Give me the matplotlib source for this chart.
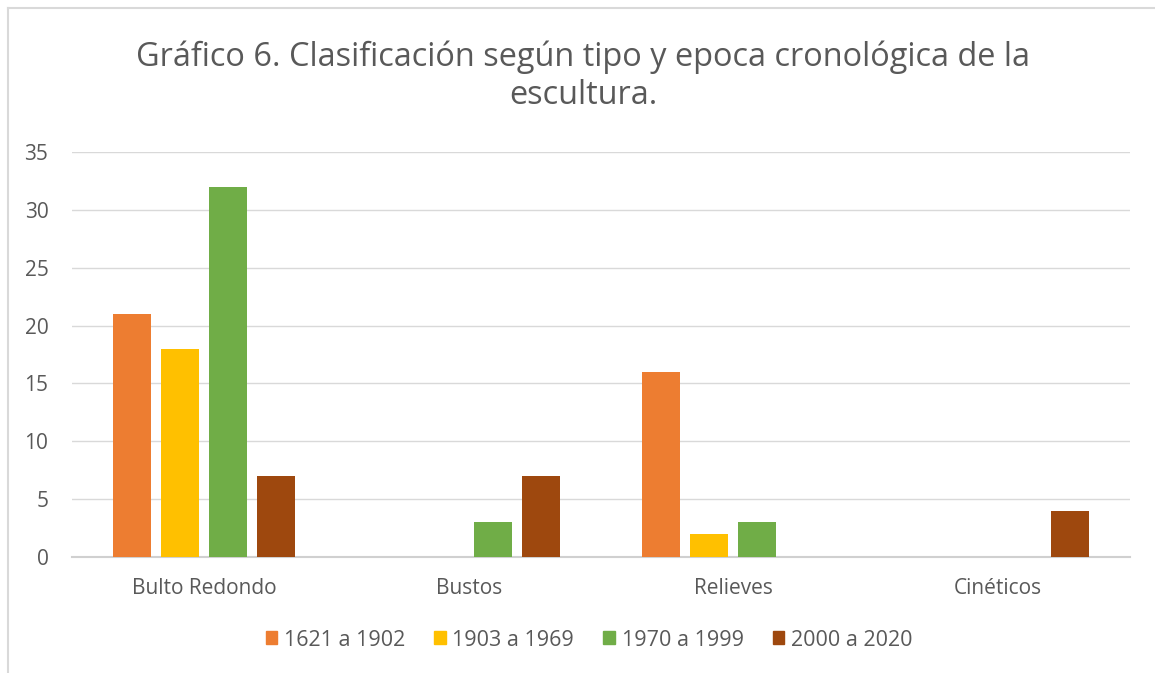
import matplotlib.pyplot as plt
import matplotlib.patches as mpatches
import numpy as np

plt.rcParams['font.family'] = ['Open Sans', 'DejaVu Sans']

# Data
categorias = ["Bulto Redondo", "Bustos", "Relieves", "Cinéticos"]
epocas = ["1621 a 1902", "1903 a 1969", "1970 a 1999", "2000 a 2020"]
v_1621_1902 = [21, 0, 16, 0]
v_1903_1969 = [18, 0, 2, 0]
v_1970_1999 = [32, 3, 3, 0]
v_2000_2020 = [7, 7, 0, 4]
series = [v_1621_1902, v_1903_1969, v_1970_1999, v_2000_2020]
colores = ["#ED7D31", "#FFC000", "#70AD47", "#9E480E"]

texto = "#595959"
grid = "#D9D9D9"

fig = plt.figure(figsize=(11.55, 6.73), dpi=100)

# outer chart frame (only left and top edges fall inside the image)
fig.add_artist(plt.Line2D([8 / 1155, 8 / 1155], [0, 1 - 8 / 673], color="#D9D9D9", lw=1.5,
                          transform=fig.transFigure))
fig.add_artist(plt.Line2D([8 / 1155, 1], [1 - 8 / 673, 1 - 8 / 673], color="#D9D9D9", lw=1.5,
                          transform=fig.transFigure))

ax = fig.add_axes([72 / 1155, 1 - 557 / 673, (1130 - 72) / 1155, (557 - 152) / 673])

x = np.arange(len(categorias))
paso = 0.1815
ancho = 0.1437
for i, (vals, col) in enumerate(zip(series, colores)):
    ax.bar(x + (i - 1.5) * paso, vals, width=ancho, color=col, label=epocas[i], zorder=3)

ax.set_xlim(-0.5, 3.5)
ax.set_ylim(0, 35)
ax.set_yticks(range(0, 36, 5))
ax.set_xticks(x)
ax.set_xticklabels(categorias)
ax.yaxis.grid(True, color=grid, lw=1, zorder=0)
for s in ["top", "right", "left"]:
    ax.spines[s].set_visible(False)
ax.spines["bottom"].set_color("#D0D0D0")
ax.spines["bottom"].set_linewidth(1.5)
ax.tick_params(axis="both", length=0, colors=texto, labelsize=15)
ax.tick_params(axis="x", pad=15)
ax.tick_params(axis="y", pad=17)

fig.text(0.505, 1 - 76 / 673, "Gráfico 6. Clasificación según tipo y epoca cronológica de la\nescultura.",
         ha="center", va="center", fontsize=23.4, color=texto, linespacing=1.22)

handles = [mpatches.Patch(color=c) for c in colores]
fig.legend(handles, epocas, loc="center", bbox_to_anchor=(589 / 1155, 1 - 640 / 673), ncol=4,
           frameon=False, fontsize=15.5, labelcolor=texto, handlelength=0.55, handleheight=0.55,
           handletextpad=0.3, columnspacing=1.35)

fig.savefig("out.png", dpi=100, facecolor="white")
